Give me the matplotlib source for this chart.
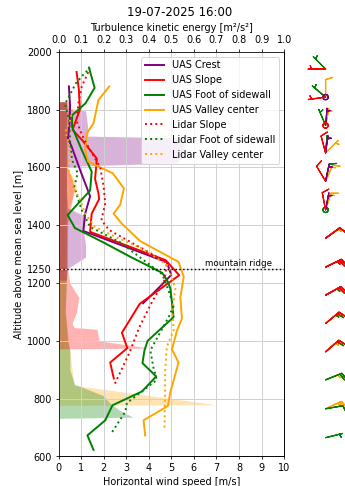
import numpy as np
import matplotlib.pyplot as plt

# UAS horizontal wind speed profiles [m/s] vs altitude [m]
crest_alt = [1130, 1180, 1228, 1272, 1380, 1440, 1500, 1590, 1670, 1700, 1760, 1815, 1880]
crest_ws = [3.75, 4.4, 5.0, 4.8, 1.1, 1.18, 1.4, 0.96, 0.59, 0.42, 0.5, 0.51, 0.46]

slope_alt = [870, 925, 975, 1028, 1128, 1227, 1279, 1377, 1440, 1490, 1510, 1560, 1630, 1694, 1730, 1800, 1870, 1930]
slope_ws = [2.45, 2.29, 3.05, 2.81, 3.6, 5.35, 4.75, 1.4, 1.47, 1.8, 1.77, 1.62, 1.7, 1.05, 0.62, 0.95, 0.9, 0.8]

foot_alt = [623, 673, 725, 777, 825, 877, 923, 967, 1000, 1082, 1181, 1210, 1235, 1290, 1340, 1390,
            1435, 1520, 1585, 1660, 1740, 1780, 1822, 1875, 1945]
foot_ws = [1.55, 1.28, 2.07, 2.39, 3.7, 4.33, 3.72, 3.81, 3.95, 5.1, 4.96, 4.81, 4.6, 3.2, 2.0, 0.73,
           0.4, 1.4, 1.47, 1.03, 0.6, 0.6, 1.2, 1.6, 1.35]

valley_alt = [673, 725, 775, 820, 925, 970, 1035, 1077, 1150, 1222, 1273, 1345, 1405, 1440, 1470,
              1527, 1580, 1605, 1620, 1660, 1717, 1752, 1833, 1880]
valley_ws = [3.84, 3.77, 4.85, 4.95, 5.32, 5.03, 5.25, 5.47, 5.4, 5.55, 5.32, 3.62, 2.81, 2.44, 2.73,
             2.9, 2.4, 1.7, 1.32, 1.18, 1.25, 1.55, 1.77, 2.25]

# Lidar profiles
lid_slope_alt = [852, 960, 1050, 1134, 1210, 1270, 1302, 1383, 1417, 1475, 1533, 1600, 1660, 1694, 1720, 1760, 1820, 1880, 1935]
lid_slope_ws = [2.5, 3.15, 3.6, 4.14, 4.7, 4.8, 4.1, 2.25, 1.9, 2.07, 2.0, 1.85, 1.4, 1.15, 1.0, 0.8, 0.88, 1.03, 1.35]

lid_foot_alt = [685, 755, 785, 865, 910, 967, 1085, 1120, 1180, 1230, 1340, 1394, 1452, 1487, 1533,
                1580, 1625, 1694, 1763, 1820, 1850, 1890, 1925, 1943]
lid_foot_ws = [2.38, 2.96, 3.03, 4.36, 4.2, 4.07, 4.9, 5.1, 4.85, 4.6, 2.75, 1.4, 1.03, 0.88, 0.7,
               0.85, 0.6, 0.51, 0.47, 0.29, 0.5, 0.76, 1.15, 1.4]

lid_valley_alt = [700, 900, 980, 1036, 1110, 1180, 1260, 1320, 1360, 1394, 1440, 1487, 1533, 1590, 1642, 1690, 1723, 1760, 1798]
lid_valley_ws = [4.7, 4.73, 4.8, 5.1, 5.05, 5.18, 4.85, 3.7, 2.5, 1.62, 1.18, 0.96, 0.66, 0.45, 0.51, 0.44, 0.3, 0.5, 0.6]

# UAS turbulence kinetic energy [m2/s2]
tke_crest_alt = [1210, 1250, 1290, 1330, 1383, 1430, 1460, 1520, 1600, 1605, 1615, 1640, 1702, 1708, 1735, 1795, 1805, 1827]
tke_crest = [0.035, 0.04, 0.12, 0.12, 0.11, 0.12, 0.04, 0.035, 0.035, 0.1, 0.52, 0.56, 0.55, 0.13, 0.13, 0.12, 0.04, 0.035]

tke_slope_alt = [965, 972, 975, 1000, 1040, 1046, 1060, 1100, 1150, 1200, 1250, 1400, 1530, 1560, 1600, 1700, 1780, 1820, 1827]
tke_slope = [0.0, 0.0, 0.40, 0.18, 0.17, 0.07, 0.06, 0.08, 0.09, 0.05, 0.04, 0.04, 0.07, 0.06, 0.04, 0.04, 0.05, 0.05, 0.05]

tke_foot_alt = [732, 736, 760, 783, 810, 850, 900, 968, 1000, 1100, 1200, 1300, 1400, 1500, 1600, 1700, 1827]
tke_foot = [0.0, 0.33, 0.27, 0.23, 0.2, 0.07, 0.05, 0.05, 0.04, 0.03, 0.035, 0.035, 0.035, 0.035, 0.035, 0.035, 0.035]

tke_valley_alt = [777, 779, 846, 900, 968, 1100, 1300, 1450, 1530, 1560, 1600, 1700, 1827]
tke_valley = [0.0, 0.70, 0.07, 0.06, 0.05, 0.03, 0.035, 0.04, 0.08, 0.07, 0.035, 0.035, 0.035]

# wind barbs: speed [m/s] and direction the wind comes from [deg]
barb_alt = [1940, 1843, 1745, 1650, 1552, 1453, 1355, 1255, 1158, 1060, 962, 865, 765, 665]
barb_crest_spd = [np.nan, 0.4, 0.6, 0.9, 1.3, 1.3, 2.0, 4.8, 4.2, np.nan, np.nan, np.nan, np.nan, np.nan]
barb_crest_dir = [np.nan, 0, 5, 8, 12, 11, 54, 64, 61, np.nan, np.nan, np.nan, np.nan, np.nan]
barb_slope_spd = [0.8, 0.9, 0.4, 1.5, 1.7, 1.6, 2.3, 5.0, 4.2, 2.8, 2.9, np.nan, np.nan, np.nan]
barb_slope_dir = [270, 262, 0, 345, 329, 349, 54, 64, 61, 50, 49, np.nan, np.nan, np.nan]
barb_foot_spd = [1.35, 1.2, 0.6, 1.0, 1.5, 0.4, 1.8, 3.6, 4.9, 5.0, 3.8, 4.3, 2.3, 1.3]
barb_foot_dir = [315, 310, 337, 5, 12, 0, 54, 64, 61, 50, 49, 68, 80, 76]
barb_valley_spd = [np.nan, 1.8, 1.4, 1.3, 2.6, 2.7, 3.4, 5.3, 5.4, 5.3, 5.1, 5.1, 4.8, np.nan]
barb_valley_dir = [np.nan, 0, 11, 45, 24, 18, 54, 64, 61, 50, 49, 68, 65, np.nan]

fig = plt.figure(figsize=(4.93, 6.943), dpi=70)
ax = fig.add_axes([0.1696, 0.0607, 0.6536, 0.8329])
ax2 = ax.twiny()
ax.set_zorder(ax2.get_zorder() + 1)
ax.patch.set_visible(False)

# TKE as shaded areas on the top axis
ax2.fill_betweenx(tke_valley_alt, 0, tke_valley, color='orange', alpha=0.3, lw=0)
ax2.fill_betweenx(tke_foot_alt, 0, tke_foot, color='green', alpha=0.3, lw=0)
ax2.fill_betweenx(tke_crest_alt, 0, tke_crest, color='purple', alpha=0.3, lw=0)
ax2.fill_betweenx(tke_slope_alt, 0, tke_slope, color='red', alpha=0.3, lw=0)

ax.plot(crest_ws, crest_alt, color='purple', lw=2, label='UAS Crest')
ax.plot(slope_ws, slope_alt, color='red', lw=2, label='UAS Slope')
ax.plot(foot_ws, foot_alt, color='green', lw=2, label='UAS Foot of sidewall')
ax.plot(valley_ws, valley_alt, color='orange', lw=2, label='UAS Valley center')
ax.plot(lid_slope_ws, lid_slope_alt, color='red', lw=2, ls=':', label='Lidar Slope')
ax.plot(lid_foot_ws, lid_foot_alt, color='green', lw=2, ls=':', label='Lidar Foot of sidewall')
ax.plot(lid_valley_ws, lid_valley_alt, color='orange', lw=2, ls=':', label='Lidar Valley center')

ax.axhline(1250, color='k', ls=':', lw=1.5)
ax.text(6.5, 1258, 'mountain ridge', fontsize=9)

# barbs to the right of the profile axes (slope drawn last, on top)
barb_x = np.full(len(barb_alt), 11.84)
for spd, d, c in zip([barb_valley_spd, barb_foot_spd, barb_crest_spd, barb_slope_spd],
                     [barb_valley_dir, barb_foot_dir, barb_crest_dir, barb_slope_dir],
                     ['orange', 'green', 'purple', 'red']):
    spd = np.array(spd)
    rad = np.deg2rad(np.array(d))
    u = -spd * np.sin(rad)
    v = -spd * np.cos(rad)
    ax.barbs(barb_x, barb_alt, u, v, color=c, length=6, lw=1.3, clip_on=False,
             barb_increments=dict(half=1, full=2, flag=10))

ax.set_xlim(0, 10)
ax.set_ylim(600, 2000)
ax.set_xticks(range(0, 11))
ax.set_yticks([600, 800, 1000, 1200, 1250, 1400, 1600, 1800, 2000])
ax.grid(True, color='#d0d0d0', lw=1)
ax.set_xlabel('Horizontal wind speed [m/s]')
ax.set_ylabel('Altitude above mean sea level [m]')

ax2.set_xlim(0, 1)
ax2.set_xticks(np.round(np.arange(0, 1.01, 0.1), 1))
ax2.set_xlabel('Turbulence kinetic energy [m²/s²]')

ax.legend(loc='upper right')
fig.text(0.52, 0.975, '19-07-2025 16:00', fontsize=12, ha='center', va='center')

fig.savefig('out.png', dpi=70)
